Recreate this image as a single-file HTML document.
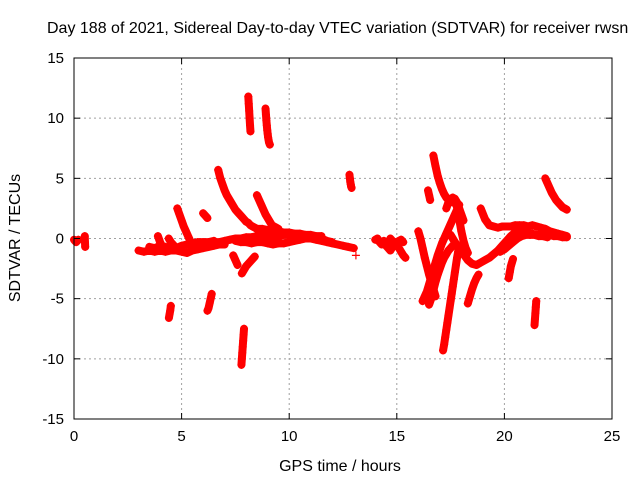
<!DOCTYPE html>
<html><head><meta charset="utf-8"><style>
body{margin:0;background:#fff}
svg{display:block;font-family:"Liberation Sans",sans-serif}
</style></head><body>
<svg id="chart" width="640" height="480">
<text x="47" y="33" font-size="16">Day 188 of 2021, Sidereal Day-to-day VTEC variation (SDTVAR) for receiver rwsn</text>
<g id="grid"></g><g id="marks"></g>
<rect x="74" y="58" width="538" height="361" fill="none" stroke="#000"/>
<g id="axes"></g>
<text x="340" y="471" font-size="16" text-anchor="middle">GPS time / hours</text>
<text transform="translate(20,238) rotate(-90)" font-size="16" text-anchor="middle">SDTVAR / TECUs</text>
</svg>
<script>
const xTicks=[0,5,10,15,20,25];
const yTicks=[-15,-10,-5,0,5,10,15];
// each track: start time, time step, values
const trackStart=[3.0,3.5,6.0,7.5,8.5,6.7,8.5,4.8,3.9,4.4,6.0,7.4,7.8,8.1,8.9,7.9,4.5,6.4,12.8,13.1,0.0,0.5,14.0,14.5,16.7,17.3,18.9,17.5,16.2,16.0,16.5,17.15,18.3,20.2,21.4,21.9,16.45,19.8];
const trackStep=[0.25,0.25,0.25,0.25,0.25,0.1,0.1,0.1,0.1,0.1,0.1,0.1,0.1,0.02,0.02,-0.02,-0.03,-0.05,0.02,0.1,0.05,0.01,0.1,0.1,0.1,0.1,0.2,0.2,0.1,0.1,0.1,0.05,0.1,0.05,0.02,0.1,0.05,0.2];
const trackValues=[
[-1.0,-1.1,-1.0,-1.1,-1.0,-1.1,-1.0,-1.0,-1.1,-1.2,-1.0,-0.9,-0.8,-0.7,-0.6,-0.5,-0.5],
[-0.7,-0.8,-0.6,-0.7,-0.9,-0.8,-0.6,-0.5,-0.4,-0.3,-0.3,-0.3,-0.2],
[-0.5,-0.4,-0.3,-0.3,-0.2,-0.1,0.0,0.0,0.1,0.1,0.2,0.2,0.2,0.1,0.2,0.3,0.3,0.3,0.2,0.1,0.0,-0.1,-0.2,-0.3,-0.4,-0.5,-0.6,-0.7,-0.8],
[-0.2,-0.3,-0.3,-0.4,-0.3,-0.3,-0.4,-0.5,-0.4,-0.4,-0.3,-0.2,-0.1,0.0,0.0,0.1,0.0,-0.2,-0.3],
[0.8,0.8,0.7,0.6,0.6,0.5,0.5,0.4,0.4,0.3,0.3,0.2,0.2],
[5.7,5.0,4.5,4.0,3.6,3.3,3.0,2.7,2.4,2.2,2.0,1.8,1.6,1.4,1.3,1.1,1.0,0.9,0.8,0.7,0.6],
[3.6,3.2,2.8,2.4,2.0,1.7,1.4,1.1,1.0,0.9,0.8],
[2.5,2.0,1.5,1.0,0.6,0.2,-0.2,-0.5,-0.7],
[0.2,-0.3,-0.7,-1.0],
[0.0,-0.3,-0.5,-0.7,-0.9],
[2.1,1.9,1.7],
[-1.4,-1.8,-2.2],
[-2.9,-2.6,-2.3,-2.1,-1.9,-1.7,-1.5],
[11.8,11.2,10.6,10.0,9.4,8.9],
[10.8,10.3,9.8,9.4,9.0,8.7,8.4,8.2,8.0,7.9,7.8],
[-7.5,-8.0,-8.5,-9.0,-9.5,-10.0,-10.5],
[-5.6,-6.0,-6.3,-6.6],
[-4.6,-5.0,-5.4,-5.8,-6.0],
[5.3,5.0,4.7,4.5,4.3,4.2],
[-1.4],
[-0.1,-0.2,-0.3,-0.2,-0.1],
[0.2,-0.3,-0.7],
[-0.1,0.0,-0.3,-0.5,-0.2,-0.4,-0.6,0.0,-0.2,-0.4,-0.6,-0.8,-1.1,-1.4,-1.6],
[-0.6,-0.8,-1.0,-0.7,-0.5,-0.3,-0.2,-0.1,-0.3],
[6.9,6.0,5.2,4.6,4.1,3.7,3.4,3.2,3.1,3.0,3.1,2.6,1.6,0.6,-0.2,-0.8,-1.2],
[2.5,3.0,3.3,3.4,3.3,3.0,2.5,2.0,1.5],
[2.5,1.6,1.1,1.0,0.9,1.0,1.0,1.0,1.1,1.1,1.1,1.0,1.1,1.0,0.9,0.8,0.6,0.5,0.4,0.3,0.2],
[0.3,-0.3,-0.8,-1.3,-1.8,-2.1,-2.2,-2.0,-1.8,-1.6,-1.3,-1.0,-0.6,-0.2,0.2,0.5,0.6,0.5,0.4,0.4,0.3,0.3,0.3,0.3,0.2,0.2,0.1,0.1],
[-5.2,-4.8,-4.4,-3.8,-3.2,-2.6,-2.0,-1.4,-0.9,-0.4,0.0,0.4,0.8,1.2,1.6,2.0,2.4,2.8],
[0.6,0.0,-0.8,-1.6,-2.3,-3.0,-3.6,-4.2,-4.8],
[-5.5,-5.0,-4.3,-3.6,-3.0,-2.5,-2.0,-1.6,-1.3,-1.0,-0.8,-0.6,-0.5,-0.6,-0.7],
[-9.3,-8.8,-8.2,-7.6,-7.0,-6.4,-5.8,-5.2,-4.6,-4.0,-3.4,-2.8,-2.2,-1.6,-1.1,-0.7],
[-5.4,-4.8,-4.2,-3.7,-3.3,-3.0],
[-3.3,-2.8,-2.3,-2.0,-1.7],
[-7.2,-6.7,-6.2,-5.7,-5.2],
[5.0,4.6,4.2,3.8,3.5,3.2,3.0,2.8,2.6,2.5,2.4],
[4.0,3.6,3.2],
[-1.1,-0.9,-0.6,-0.3,0.0,0.2,0.3,0.3,0.3,0.2,0.2,0.1]
];
const NS="http://www.w3.org/2000/svg";
const X0=74,X1=612,Y0=419,Y1=58;
function xs(t){return X0+(t-0)/(25-0)*(X1-X0);}
function ys(v){return Y0-(v+15)/30*(Y0-Y1);}
function el(tag,attrs,parent){const e=document.createElementNS(NS,tag);for(const k in attrs)e.setAttribute(k,attrs[k]);parent.appendChild(e);return e;}
const grid=document.getElementById('grid'),axes=document.getElementById('axes'),marks=document.getElementById('marks');
xTicks.forEach(t=>{const x=xs(t);
 if(t>0&&t<25){const g=el('line',{x1:x,x2:x,y1:Y1,y2:Y0,stroke:'#a0a0a0','stroke-dasharray':'2,3'},grid);
 
 }
 el('line',{x1:x,x2:x,y1:Y0,y2:Y0-6,stroke:'#000'},axes);
 el('line',{x1:x,x2:x,y1:Y1,y2:Y1+6,stroke:'#000'},axes);
 const tx=el('text',{x:x,y:Y0+22,'font-size':15,'text-anchor':'middle'},axes);tx.textContent=t;
 
 });
yTicks.forEach(v=>{const y=ys(v);
 if(v>-15&&v<15){const g=el('line',{x1:X0,x2:X1,y1:y,y2:y,stroke:'#a0a0a0','stroke-dasharray':'2,3'},grid);
 
 }
 el('line',{x1:X0,x2:X0+6,y1:y,y2:y,stroke:'#000'},axes);
 el('line',{x1:X1,x2:X1-6,y1:y,y2:y,stroke:'#000'},axes);
 const tx=el('text',{x:X0-10,y:y+5,'font-size':15,'text-anchor':'end'},axes);tx.textContent=v;
 
 });
trackValues.forEach((vals,i)=>{
 const g=el('g',{},marks);
 
 
 const pts=vals.map((v,j)=>[xs(trackStart[i]+j*trackStep[i]),ys(v)]);
 if(pts.length>1){el('polyline',{points:pts.map(p=>p.join(',')).join(' '),fill:'none',stroke:'#f00','stroke-width':8,'stroke-linejoin':'round','stroke-linecap':'round'},g);}
 pts.forEach(p=>{el('path',{d:`M${p[0]-4},${p[1]}h8M${p[0]},${p[1]-4}v8`,stroke:'#f00','stroke-width':1.2},g);});
});
</script>
</body></html>
